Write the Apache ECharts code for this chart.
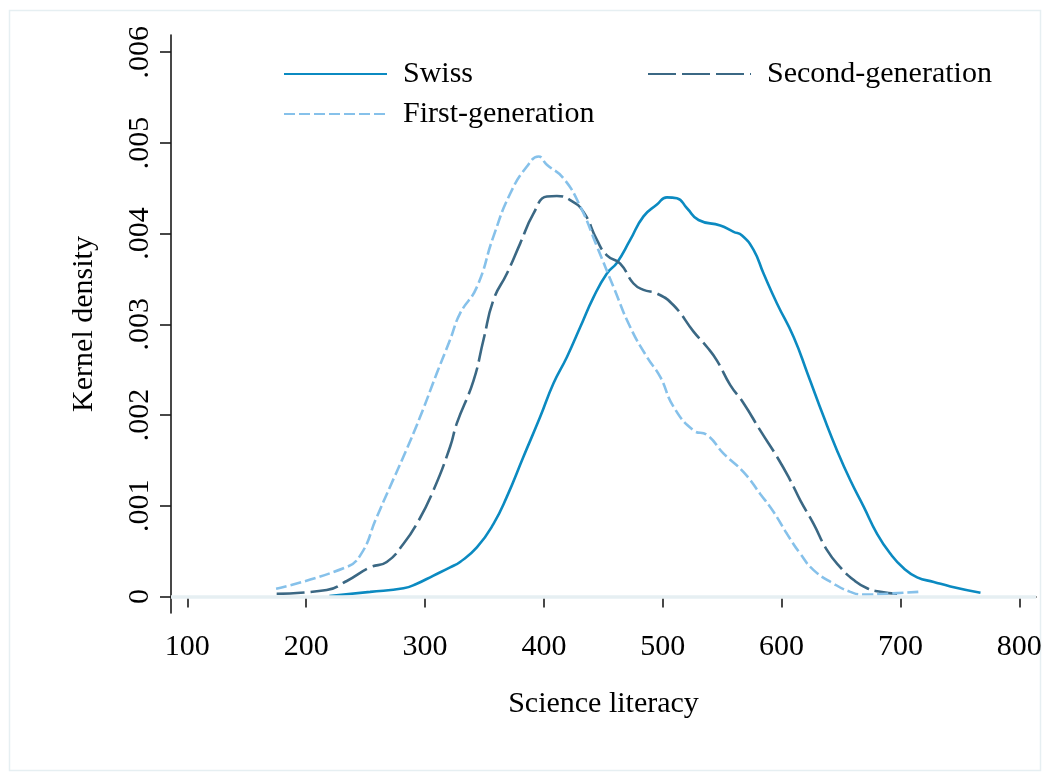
<!DOCTYPE html>
<html>
<head>
<meta charset="utf-8">
<script src="https://cdn.jsdelivr.net/npm/echarts@6/dist/echarts.min.js"></script>
<style>
html,body{margin:0;padding:0;background:#fff;}
#chart{width:1045px;height:776px;}
</style>
</head>
<body>
<div id="chart"></div>
<script>
// ---- data (science literacy score, kernel density) ----
const seriesNames = ['Swiss', 'Second-generation', 'First-generation'];
const xTicks = [100, 200, 300, 400, 500, 600, 700, 800];
const yTicks = [0, 0.001, 0.002, 0.003, 0.004, 0.005, 0.006];

const swiss = [
  [219.5,0.000005],[253.8,0.00005],[281.9,0.00009],[293.1,0.00014],[307.1,0.00023],
  [321.1,0.00032],[329.5,0.00038],[343.6,0.00054],[357.6,0.0008],[368.9,0.0011],
  [382.8,0.00154],[396.9,0.00198],[408.1,0.00235],[419.4,0.00264],[430.6,0.00297],
  [441.8,0.0033],[453,0.00356],[461.5,0.00368],[472.6,0.00393],[483.8,0.00419],
  [495.1,0.00432],[503.5,0.0044],[511.9,0.00439],[520.4,0.00428],[530.1,0.00415],
  [548.4,0.00409],[559.6,0.00402],[566.7,0.00398],[576.4,0.00382],[584.8,0.00356],
  [596.1,0.00323],[610.1,0.00286],[622,0.00245],[635.4,0.00198],
  [646.6,0.00161],[657.8,0.00128],[669,0.00099],[680.3,0.00069],[691.5,0.00047],
  [702.7,0.00031],[714,0.00021],[728,0.00016],[742,0.00011],[767.3,0.00004]
];

const secondGen = [
  [175.2,0.00003],[217.3,0.00007],[234.2,0.00017],[253.8,0.00032],[267.8,0.00038],
  [281.9,0.00058],[293.1,0.0008],[307.1,0.00117],[321.1,0.00165],[326.8,0.00191],
  [340.8,0.00238],[349.2,0.00283],[357.6,0.00327],[368.9,0.00356],[380,0.00389],
  [391.2,0.00422],[402.5,0.00441],[410.9,0.004415],[422.1,0.00437],[433.3,0.00424],
  [444.6,0.00393],[453,0.00376],[464.2,0.00367],[475.4,0.00345],[483.8,0.00338],
  [495.1,0.00334],[509.1,0.00321],[525.9,0.00292],[537.2,0.00275],[545.6,0.0026],
  [556.8,0.00233],[568,0.00213],[582,0.00183],[596.1,0.00154],[607.3,0.00128],
  [615.7,0.00106],[626.9,0.0008],[638.2,0.00051],[649.4,0.00032],[660.7,0.00018],
  [671.9,0.00009],[683.1,0.00005],[697.1,0.00003]
];

const firstGen = [
  [174.7,0.000085],[231.4,0.00031],[245.4,0.00045],[259.4,0.000875],[270.6,0.00121],
  [281.8,0.00154],[295.9,0.00198],[309.9,0.00246],[321.1,0.00283],[329.5,0.00312],
  [343.6,0.00341],[357.6,0.00397],[371.6,0.00444],[385.7,0.00474],[395.5,0.00485],
  [402.5,0.00476],[416.5,0.00461],[430.6,0.0043],[444.6,0.00386],[458.6,0.00341],
  [472.6,0.00297],[486.7,0.00264],[497.9,0.00242],[509.1,0.00209],[525.9,0.00183],
  [537.2,0.00178],[551.2,0.001575],[568,0.00137],[582,0.00113],[593.3,0.00093],
  [604.5,0.00069],[615.7,0.00047],[626.9,0.00029],[643.8,0.00014],[657.8,0.00005],
  [669,0.00002],[688.7,0.00003],[715.3,0.00005]
];

// ---- styling ----
const FONT = "'Liberation Serif', 'Times New Roman', serif";
const FS = 30;
const colors = { swiss: '#0b8ac1', second: '#3b6884', first: '#86c1ea' };
const AXIS = '#1a1a1a';

const chart = echarts.init(document.getElementById('chart'), null, { renderer: 'canvas' });

const legendBase = {
  orient: 'horizontal',
  itemWidth: 103,
  itemHeight: 20,
  padding: 0,
  itemStyle: { opacity: 0, borderWidth: 0 },
  textStyle: { fontFamily: FONT, fontSize: FS, color: '#000', padding: [0, 0, 0, 11] },
  selectedMode: false
};

const option = {
  backgroundColor: '#fff',
  animation: false,
  graphic: [{
    type: 'rect',
    left: 7, top: 8,
    shape: { width: 1031, height: 760 },
    style: { fill: 'none', stroke: '#e6eff2', lineWidth: 1.5 },
    silent: true, z: -10
  }],
  legend: [
    Object.assign({}, legendBase, { data: [seriesNames[0]], left: 283, top: 59 }),
    Object.assign({}, legendBase, { data: [seriesNames[1]], left: 647, top: 59 }),
    Object.assign({}, legendBase, { data: [seriesNames[2]], left: 283, top: 99 })
  ],
  grid: { left: 171, top: 35, right: 9, bottom: 163, containLabel: false },
  xAxis: {
    type: 'value',
    min: 86.3, max: 814,
    name: 'Science literacy',
    nameLocation: 'middle',
    nameGap: 76,
    nameTextStyle: { fontFamily: FONT, fontSize: FS, color: '#000' },
    axisLine: { show: true, lineStyle: { color: AXIS, width: 1.6 } },
    axisTick: { show: true, length: 11, customValues: xTicks, lineStyle: { color: AXIS, width: 1.6 } },
    axisLabel: { customValues: xTicks, margin: 19, fontFamily: FONT, fontSize: FS, color: '#000' },
    splitLine: { show: false }
  },
  yAxis: {
    type: 'value',
    min: -0.000183, max: 0.00619,
    name: 'Kernel density',
    nameLocation: 'middle',
    nameGap: 72,
    nameTextStyle: { fontFamily: FONT, fontSize: FS, color: '#000' },
    axisLine: { show: true, lineStyle: { color: AXIS, width: 1.6 } },
    axisTick: { show: true, length: 11, customValues: yTicks, lineStyle: { color: AXIS, width: 1.6 } },
    axisLabel: {
      customValues: yTicks, rotate: 90, margin: 16,
      fontFamily: FONT, fontSize: FS, color: '#000',
      formatter: v => (Math.abs(v) < 1e-9 ? '0' : v.toFixed(3).replace(/^0/, ''))
    },
    splitLine: { show: false }
  },
  series: [
    {
      name: '__grid', type: 'line', data: [], z: 1, silent: true,
      markLine: {
        silent: true, symbol: 'none', animation: false,
        label: { show: false },
        lineStyle: { color: '#e6eff2', width: 2.4, type: 'solid' },
        data: yTicks.map(v => ({ yAxis: v }))
      }
    },
    {
      name: seriesNames[0], type: 'line', data: swiss, showSymbol: false, symbol: 'none',
      smooth: 0.5, z: 3,
      lineStyle: { color: colors.swiss, width: 2.6, type: 'solid' },
      itemStyle: { color: colors.swiss }
    },
    {
      name: seriesNames[1], type: 'line', data: secondGen, showSymbol: false, symbol: 'none',
      smooth: 0.5, z: 3,
      lineStyle: { color: colors.second, width: 2.6, type: [28, 6] },
      itemStyle: { color: colors.second }
    },
    {
      name: seriesNames[2], type: 'line', data: firstGen, showSymbol: false, symbol: 'none',
      smooth: 0.5, z: 3,
      lineStyle: { color: colors.first, width: 2.6, type: [11, 4] },
      itemStyle: { color: colors.first }
    }
  ]
};

chart.setOption(option);
</script>
</body>
</html>
